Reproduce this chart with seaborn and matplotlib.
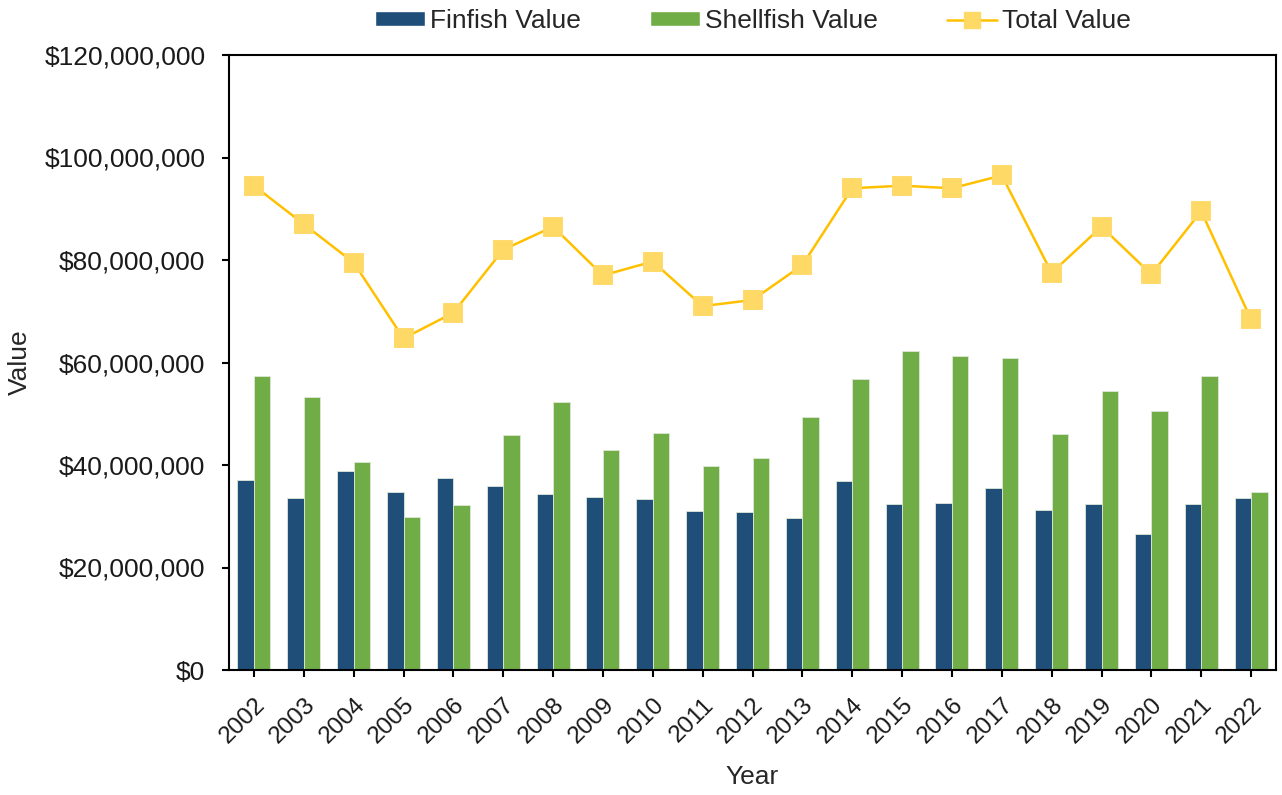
import matplotlib
matplotlib.use("Agg")
import matplotlib.pyplot as plt
import matplotlib.ticker as mticker
from matplotlib.patches import Patch
from matplotlib.lines import Line2D
import seaborn as sns
import pandas as pd

# Data (values in millions of dollars)
years = [str(y) for y in range(2002, 2023)]
finfish_m = [37.0, 33.5, 38.8, 34.8, 37.5, 36.0, 34.3, 33.7, 33.3, 31.0, 30.8,
             29.6, 36.8, 32.3, 32.6, 35.5, 31.3, 32.3, 26.5, 32.3, 33.5]
shellfish_m = [57.3, 53.3, 40.5, 29.8, 32.2, 45.8, 52.2, 43.0, 46.3, 39.8, 41.3,
               49.3, 56.8, 62.3, 61.3, 60.8, 46.0, 54.4, 50.5, 57.3, 34.8]
total_m = [94.5, 87.0, 79.5, 64.7, 69.7, 82.0, 86.5, 77.0, 79.7, 71.0, 72.2,
           79.0, 94.0, 94.5, 94.0, 96.5, 77.5, 86.5, 77.2, 89.5, 68.4]
finfish = [v * 1e6 for v in finfish_m]
shellfish = [v * 1e6 for v in shellfish_m]
total = [v * 1e6 for v in total_m]

BLUE = "#1F4E79"
GREEN = "#70AD47"
LINE = "#FFC000"
MARK = "#FFD966"

bars_df = pd.DataFrame({
    "Year": years * 2,
    "Value": finfish + shellfish,
    "Series": ["Finfish Value"] * len(years) + ["Shellfish Value"] * len(years),
})

sns.set_style("white")
plt.rcParams["font.family"] = ["Liberation Sans", "DejaVu Sans"]

fig = plt.figure(figsize=(12.82, 7.95), dpi=100)
ax = fig.add_axes([229 / 1282, 125 / 795, (1276 - 229) / 1282, (670 - 55) / 795])

sns.barplot(data=bars_df, x="Year", y="Value", hue="Series",
            palette=[BLUE, GREEN], saturation=1, width=0.66, gap=0,
            edgecolor="#dfe8d8", linewidth=0.6, ax=ax, legend=False)
sns.pointplot(x=years, y=total, color=LINE, markers="s", linestyles="-",
              markersize=13.5, linewidth=1.8, errorbar=None, ax=ax)
for ln in ax.lines:
    ln.set_markerfacecolor(MARK)
    ln.set_markeredgecolor(MARK)
    ln.set_zorder(5)

ax.set_xlim(-0.5, len(years) - 0.5)
ax.set_ylim(0, 120e6)
ax.yaxis.set_major_locator(mticker.MultipleLocator(20e6))
ax.yaxis.set_major_formatter(mticker.FuncFormatter(lambda v, p: f"${v:,.0f}"))

for s in ax.spines.values():
    s.set_visible(True)
    s.set_color("black")
    s.set_linewidth(1.5)

ax.tick_params(axis="both", direction="out", length=5, width=1.5, color="black",
               left=True, bottom=True, labelcolor="#1a1a1a")
ax.tick_params(axis="y", labelsize=19, pad=12)
ax.tick_params(axis="x", labelsize=17.5, pad=12)
plt.setp(ax.get_xticklabels(), rotation=45, ha="right", rotation_mode="anchor")

ax.set_xlabel("Year", fontsize=19)
ax.set_ylabel("Value", fontsize=19)
ax.xaxis.set_label_coords(0.5, -0.155)
ax.yaxis.set_label_coords(-0.188, 0.5)

handles = [
    Patch(facecolor=BLUE, edgecolor="white", label="Finfish Value"),
    Patch(facecolor=GREEN, edgecolor="white", label="Shellfish Value"),
    Line2D([0], [0], color=LINE, lw=1.8, marker="s", markersize=12,
           markerfacecolor=MARK, markeredgecolor=MARK, label="Total Value"),
]
fig.legend(handles=handles, loc="center", bbox_to_anchor=(753 / 1282, 1 - 21 / 795),
           ncol=3, frameon=False, fontsize=19, handlelength=1.9,
           handleheight=0.5, handletextpad=0.2, columnspacing=2.6,
           borderpad=0)

fig.savefig("out.png", dpi=100)
